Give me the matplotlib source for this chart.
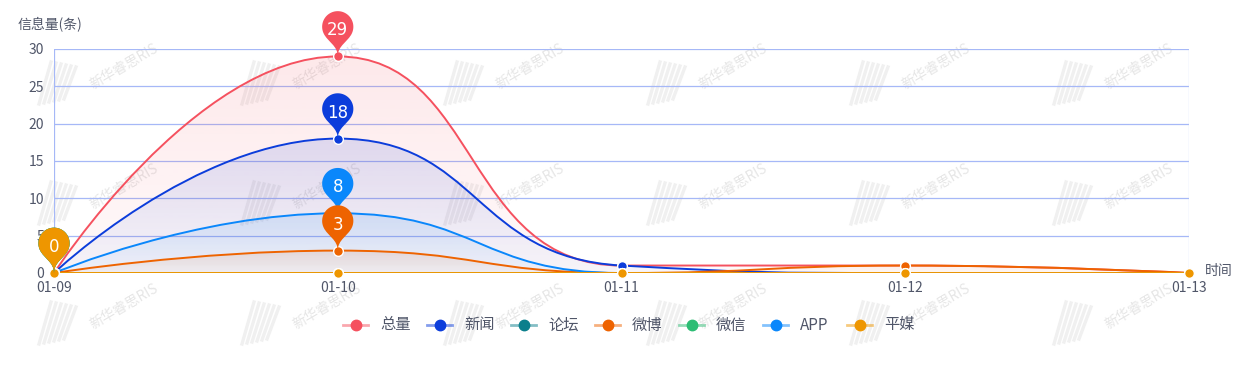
import numpy as np
import matplotlib
matplotlib.use("Agg")
import matplotlib.pyplot as plt
from matplotlib.path import Path
from matplotlib.patches import PathPatch
from matplotlib.lines import Line2D
import matplotlib.transforms as mtransforms

plt.rcParams['font.family'] = ['Noto Sans CJK SC', 'DejaVu Sans']

# ---------------- data ----------------
categories = ["01-09", "01-10", "01-11", "01-12", "01-13"]
series_names = ["总量", "新闻", "论坛", "微博", "微信", "APP", "平媒"]
total = [0, 29, 1, 1, 0]
news = [0, 18, 1, 0, 0]
forum = [0, 0, 0, 0, 0]
weibo = [0, 3, 0, 1, 0]
wechat = [0, 0, 0, 0, 0]
app = [0, 8, 0, 0, 0]
print_media = [0, 0, 0, 0, 0]
series_values = [total, news, forum, weibo, wechat, app, print_media]
colors = ["#f5515f", "#0c3ddb", "#0b7f8c", "#ee6300", "#2dbd74", "#0a87fb", "#ee9600"]
y_ticks = [0, 5, 10, 15, 20, 25, 30]
y_label = "信息量(条)"
x_label = "时间"

W, H = 1260, 370
fig = plt.figure(figsize=(W / 100, H / 100), dpi=100)
L, R, T, B = 54, 1189, 49, 273
ax = fig.add_axes([L / W, (H - B) / H, (R - L) / W, (B - T) / H])
ax.set_xlim(0, len(categories) - 1)
ax.set_ylim(0, 30)
ax.patch.set_visible(False)
for s in ax.spines.values():
    s.set_visible(False)

sx = (R - L) / (len(categories) - 1)
sy = (B - T) / 30.0

# ---------------- watermark ----------------
wm_col = "#f0f0f0"
wm_txt = "#e6e6e6"
for i in range(3):
    for j in range(6):
        lx = 37 + 203 * j
        ly = 60 + 120 * i
        for k in range(6):
            x0 = lx + 2 + k * 5
            fig.add_artist(Line2D([(x0) / W, (x0 + 12) / W],
                                  [(H - (ly + 44 - k)) / H, (H - (ly + 2 + k)) / H],
                                  color=wm_col, lw=2.4, zorder=-2,
                                  transform=fig.transFigure))
        fig.text((lx + 50) / W, (H - (ly + 32)) / H, "新华睿思RIS", rotation=30,
                 fontsize=10, color=wm_txt, ha="left", va="bottom", zorder=-2)

# ---------------- grid ----------------
grid_col = "#a6b8f7"
for yv in y_ticks:
    ax.axhline(yv, color=grid_col, lw=0.9, zorder=0.5)
ax.axvline(0, color=grid_col, lw=0.9, zorder=0.5)
ax.axvline(len(categories) - 1, color="#c3d0fa", lw=0.9, zorder=0.5)

ax.set_yticks(y_ticks)
ax.set_yticklabels([str(v) for v in y_ticks])
ax.set_xticks(range(len(categories)))
ax.set_xticklabels(categories)
ax.tick_params(axis="both", length=0, colors="#505669", labelsize=10)
ax.tick_params(axis="y", pad=7)
ax.tick_params(axis="x", pad=5.5)

fig.text(18 / W, (H - 25) / H, y_label, fontsize=10, color="#505669", ha="left", va="center")
fig.text(1205 / W, (H - 271) / H, x_label, fontsize=10, color="#505669", ha="left", va="center")


# ---------------- smooth curve (ECharts style) ----------------
def smooth_path(vals, smooth=0.5):
    pts = [(i * sx, v * sy) for i, v in enumerate(vals)]
    n = len(pts)
    verts = [pts[0]]
    codes = [Path.MOVETO]
    cpx0, cpy0 = pts[0]
    prevX, prevY = pts[0]
    for k in range(1, n):
        x, y = pts[k]
        if k == n - 1:
            cpx1, cpy1 = x, y
            nextCpx0, nextCpy0 = x, y
        else:
            nextX, nextY = pts[k + 1]
            vx = nextX - prevX
            vy = nextY - prevY
            lenPrev = np.hypot(x - prevX, y - prevY)
            lenNext = np.hypot(nextX - x, nextY - y)
            ratio = lenNext / (lenNext + lenPrev)
            nextCpx0 = x + vx * smooth * ratio
            nextCpy0 = y + vy * smooth * ratio
            nextCpx0 = min(nextCpx0, max(nextX, x)); nextCpy0 = min(nextCpy0, max(nextY, y))
            nextCpx0 = max(nextCpx0, min(nextX, x)); nextCpy0 = max(nextCpy0, min(nextY, y))
            vx = nextCpx0 - x; vy = nextCpy0 - y
            cpx1 = x - vx * lenPrev / lenNext
            cpy1 = y - vy * lenPrev / lenNext
            cpx1 = min(cpx1, max(prevX, x)); cpy1 = min(cpy1, max(prevY, y))
            cpx1 = max(cpx1, min(prevX, x)); cpy1 = max(cpy1, min(prevY, y))
            vx = x - cpx1; vy = y - cpy1
            nextCpx0 = x + vx * lenNext / lenPrev
            nextCpy0 = y + vy * lenNext / lenPrev
        verts += [(cpx0, cpy0), (cpx1, cpy1), (x, y)]
        codes += [Path.CURVE4] * 3
        cpx0, cpy0 = nextCpx0, nextCpy0
        prevX, prevY = x, y
    verts = [(a / sx, b / sy) for a, b in verts]
    return verts, codes


for idx, (vals, col) in enumerate(zip(series_values, colors)):
    verts, codes = smooth_path(vals)
    top = max(vals)
    if top > 0:
        av = verts + [(len(vals) - 1, 0), (0, 0), (0, 0)]
        ac = codes + [Path.LINETO, Path.LINETO, Path.CLOSEPOLY]
        patch = PathPatch(Path(av, ac), transform=ax.transData, facecolor="none", edgecolor="none")
        rgb = matplotlib.colors.to_rgb(col)
        grad = np.zeros((256, 1, 4))
        grad[..., 0], grad[..., 1], grad[..., 2] = rgb
        grad[:, 0, 3] = np.linspace(0.13, 0.03, 256)
        im = ax.imshow(grad, extent=[0, len(vals) - 1, 0, top], aspect="auto",
                       origin="upper", zorder=1 + idx * 0.01, interpolation="bilinear")
        im.set_clip_path(patch)
    lp = PathPatch(Path(verts, codes), facecolor="none", edgecolor=col, lw=1.4,
                   zorder=2 + idx * 0.01, capstyle="round", joinstyle="round")
    ax.add_patch(lp)
    ax.plot(range(len(vals)), vals, linestyle="none", marker="o", ms=7, mfc=col,
            mec="white", mew=1, zorder=3 + idx * 0.01, clip_on=False)

# ---------------- pins (mark points) ----------------
def pin_path(size=52):
    w = size * 0.6
    h = max(w, size)
    r = w / 2
    dy = r * r / (h - r)
    cy = -h + r + dy
    ang = np.arcsin(dy / r)
    dx = np.cos(ang) * r
    tanX, tanY = np.sin(ang), np.cos(ang)
    cpLen, cpLen2 = r * 0.6, r * 0.7
    ts = np.linspace(np.pi - ang, 2 * np.pi + ang, 60)
    verts = [(r * np.cos(t), cy + r * np.sin(t)) for t in ts]
    codes = [Path.MOVETO] + [Path.LINETO] * (len(ts) - 1)
    verts += [(dx - tanX * cpLen, cy + dy + tanY * cpLen), (0, -cpLen2), (0, 0)]
    codes += [Path.CURVE4] * 3
    verts += [(0, -cpLen2), (-dx + tanX * cpLen, cy + dy + tanY * cpLen), (-dx, cy + dy)]
    codes += [Path.CURVE4] * 3
    verts += [(-dx, cy + dy)]
    codes += [Path.CLOSEPOLY]
    verts = [(a, -b) for a, b in verts]  # flip to y-up
    return Path(verts, codes)

pp = pin_path(52)
order = sorted(range(len(series_values)), key=lambda i: -max(series_values[i]))
for z, i in enumerate(order):
    vals = series_values[i]
    m = max(vals)
    xi = vals.index(m)
    tr = mtransforms.ScaledTranslation(xi, m, ax.transData)
    ppatch = PathPatch(pp, facecolor=colors[i], edgecolor="none",
                       transform=mtransforms.IdentityTransform() + tr, zorder=5 + z * 0.1,
                       clip_on=False)
    ax.add_patch(ppatch)
    ax.annotate(str(m), (xi, m), xytext=(0, 26 * 0.72), textcoords="offset points",
                ha="center", va="center", color="white", fontsize=12,
                family=["DejaVu Sans"], zorder=5.05 + z * 0.1, annotation_clip=False)

# ---------------- legend ----------------
leg_y = (H - 325) / H
for i, (name, col) in enumerate(zip(series_names, colors)):
    x0 = 343 + 84 * i
    fig.add_artist(Line2D([x0 / W, (x0 + 25) / W], [leg_y, leg_y], color=col, alpha=0.5,
                          lw=2, transform=fig.transFigure))
    fig.add_artist(Line2D([(x0 + 12.5) / W], [leg_y], marker="o", ms=7.5, color=col,
                          mec=col, transform=fig.transFigure))
    fig.text((x0 + 37) / W, leg_y, name, fontsize=11, color="#505669", ha="left", va="center")

fig.savefig("out.png", dpi=100)
